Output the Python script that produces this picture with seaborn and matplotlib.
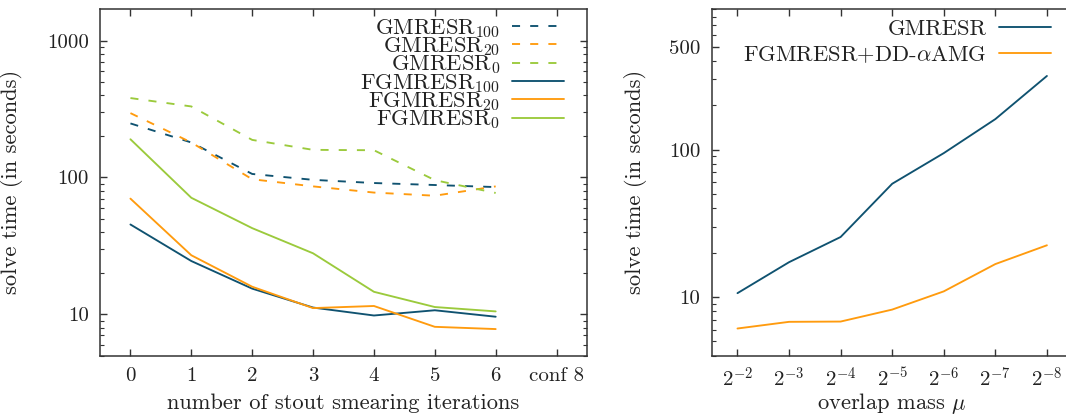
import numpy as np
import pandas as pd
import matplotlib
matplotlib.use("Agg")
import matplotlib.pyplot as plt
import seaborn as sns
from matplotlib.ticker import LogLocator, NullFormatter, FixedLocator, FixedFormatter

# ---- data: stout smearing study (left) ----
smear_iters = [0, 1, 2, 3, 4, 5, 6]
smear_labels = ["0", "1", "2", "3", "4", "5", "6", "conf 8"]
gmresr_100 = [248, 180, 106, 96, 91, 88, 85]
gmresr_20 = [295, 180, 97, 86, 77.5, 73.5, 86]
gmresr_0 = [380, 330, 188, 159, 158, 95.5, 77]
fgmresr_100 = [45.3, 24.5, 15.4, 11.2, 9.8, 10.7, 9.6]
fgmresr_20 = [70, 27, 15.9, 11.1, 11.5, 8.1, 7.8]
fgmresr_0 = [190, 71, 42.6, 27.9, 14.6, 11.3, 10.5]

# ---- data: overlap mass study (right) ----
mass_idx = [0, 1, 2, 3, 4, 5, 6]
mass_labels = [r"$2^{-2}$", r"$2^{-3}$", r"$2^{-4}$", r"$2^{-5}$",
               r"$2^{-6}$", r"$2^{-7}$", r"$2^{-8}$"]
gmresr_mass = [10.6, 17.2, 25.5, 58.6, 94.6, 161, 316]
fgmresr_dd_mass = [6.1, 6.77, 6.8, 8.2, 10.9, 16.7, 22.4]

TEAL = "#0f5270"
ORANGE = "#ff9b0e"
GREEN = "#9bca3c"
INK = "#222222"
FS_TICK = 15
FS_LABEL = 16.2

sns.set_theme(style="ticks")
plt.rcParams.update({
    "font.family": ["cmr10", "DejaVu Serif"],
    "mathtext.fontset": "cm",
    "axes.unicode_minus": False,
    "axes.formatter.use_mathtext": True,
    "font.size": FS_LABEL,
    "xtick.labelsize": FS_TICK,
    "ytick.labelsize": FS_TICK,
    "axes.labelsize": FS_LABEL,
    "legend.fontsize": FS_LABEL,
    "axes.edgecolor": "#333333",
    "axes.linewidth": 1.1,
    "text.color": INK,
    "axes.labelcolor": INK,
    "xtick.color": "#333333",
    "ytick.color": "#333333",
    "xtick.labelcolor": INK,
    "ytick.labelcolor": INK,
})

W, H = 1066, 417
fig = plt.figure(figsize=(W / 100, H / 100), dpi=100)
ax1 = fig.add_axes([100 / W, (H - 355.5) / H, 487 / W, 346.5 / H])
ax2 = fig.add_axes([711.7 / W, (H - 355.5) / H, 361 / W, 346.5 / H])

LW = 1.35
DASH = (4.3, 5.4)

left_series = [
    (r"GMRESR$_{100}$", gmresr_100, TEAL, True),
    (r"GMRESR$_{20}$", gmresr_20, ORANGE, True),
    (r"GMRESR$_{0}$", gmresr_0, GREEN, True),
    (r"FGMRESR$_{100}$", fgmresr_100, TEAL, False),
    (r"FGMRESR$_{20}$", fgmresr_20, ORANGE, False),
    (r"FGMRESR$_{0}$", fgmresr_0, GREEN, False),
]
for label, vals, color, dashed in left_series:
    df = pd.DataFrame({"iters": smear_iters, "time": vals})
    kw = dict(dashes=DASH) if dashed else {}
    sns.lineplot(data=df, x="iters", y="time", ax=ax1, color=color,
                 linewidth=LW, label=label, **kw)

right_series = [
    ("GMRESR", gmresr_mass, TEAL),
    (r"FGMRESR+DD-$\alpha$AMG", fgmresr_dd_mass, ORANGE),
]
for label, vals, color in right_series:
    df = pd.DataFrame({"mass": mass_idx, "time": vals})
    sns.lineplot(data=df, x="mass", y="time", ax=ax2, color=color,
                 linewidth=LW, label=label)


def style_axes(ax, xticks, xlabels, xlim, ylim, yticks, right_ticks=True):
    ax.set_yscale("log")
    ax.set_xlim(*xlim)
    ax.set_ylim(*ylim)
    ax.xaxis.set_major_locator(FixedLocator(xticks))
    ax.xaxis.set_major_formatter(FixedFormatter(xlabels))
    ax.yaxis.set_major_locator(FixedLocator(yticks))
    ax.yaxis.set_major_formatter(FixedFormatter([str(t) for t in yticks]))
    ax.yaxis.set_minor_locator(LogLocator(base=10, subs=np.arange(2, 10)))
    ax.yaxis.set_minor_formatter(NullFormatter())
    ax.tick_params(which="both", direction="in", top=True, right=right_ticks)
    ax.tick_params(which="major", length=5, width=1.0, pad=8)
    ax.tick_params(axis="x", which="minor", bottom=False, top=False)
    ax.tick_params(axis="y", which="minor", length=2.8, width=0.8)
    ax.set_ylabel("solve time (in seconds)")
    for s in ax.spines.values():
        s.set_visible(True)


style_axes(ax1, list(range(8)), smear_labels, (-0.5, 7.5), (5, 1700),
           [10, 100, 1000])
style_axes(ax2, mass_idx, mass_labels, (-0.5, 6.5), (4, 900),
           [10, 100, 500], right_ticks=False)
ax1.set_xlabel("number of stout smearing iterations", labelpad=6.5)
ax2.set_xlabel(r"overlap mass $\mu$", labelpad=0.5)
ax1.yaxis.set_label_coords(-0.158, 0.5)
ax2.yaxis.set_label_coords(-0.179, 0.5)

ax1.legend(loc="upper right", bbox_to_anchor=(564 / W, 1 - 17 / H),
           bbox_transform=fig.transFigure, frameon=False, markerfirst=False,
           handlelength=2.3, handletextpad=0.55, labelspacing=-0.2,
           borderaxespad=0.0, borderpad=0.0)
ax2.legend(loc="upper right", bbox_to_anchor=(1051 / W, 1 - 19 / H),
           bbox_transform=fig.transFigure, frameon=False, markerfirst=False,
           handlelength=2.3, handletextpad=0.55, labelspacing=0.25,
           borderaxespad=0.0, borderpad=0.0)

fig.savefig("out.png", dpi=100)
